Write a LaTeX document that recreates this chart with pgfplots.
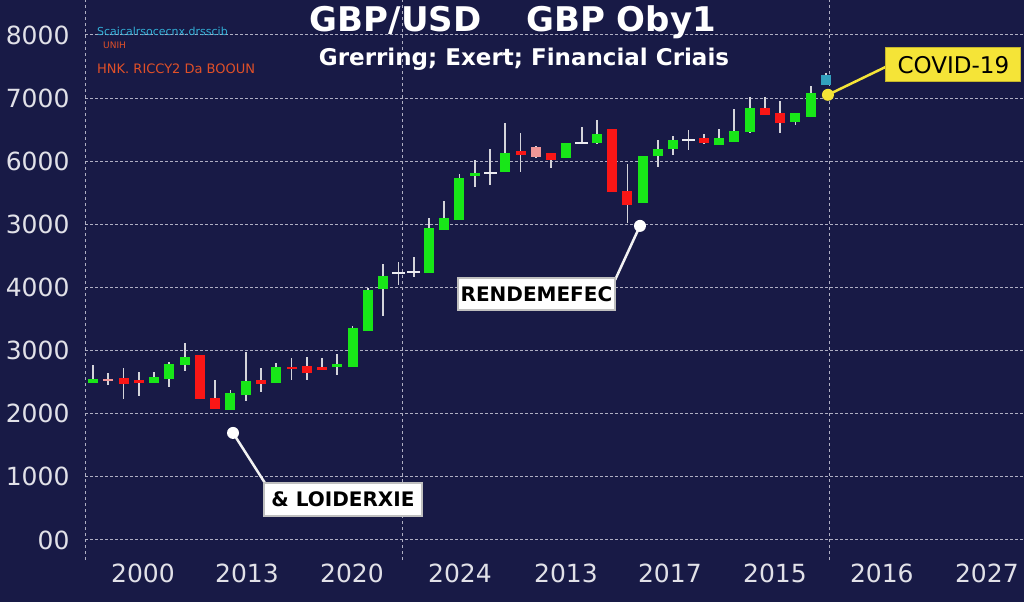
\documentclass[border=0pt]{standalone}
\usepackage{fontspec}
\setmainfont{DejaVu Sans}
\usepackage{pgfplots}
\usepackage{pgfplotstable}
\pgfplotsset{compat=1.18}

\definecolor{bg}{RGB}{24,26,70}
\definecolor{gridc}{RGB}{175,175,195}
\definecolor{lab}{RGB}{225,225,232}
\definecolor{cgreen}{RGB}{24,230,24}
\definecolor{cred}{RGB}{250,22,22}
\definecolor{cpink}{RGB}{240,150,150}
\definecolor{cdoji}{RGB}{235,235,240}
\definecolor{cteal}{RGB}{50,160,190}
\definecolor{wick}{RGB}{212,212,218}
\definecolor{ccyan}{RGB}{50,175,215}
\definecolor{corange}{RGB}{225,80,40}
\definecolor{cyel}{RGB}{245,228,55}

% x  open high low close
\pgfplotstableread{
x o h l c
1 2488 2773 2488 2552
5 2488 2662 2488 2583
6 2552 2821 2425 2789
7 2773 3122 2678 2900
10 2060 2377 2060 2330
11 2298 2979 2203 2520
13 2488 2805 2488 2742
17 2742 2948 2615 2789
18 2742 3391 2742 3360
19 3312 3994 3312 3962
20 3978 4374 3550 4184
23 4231 5103 4231 4945
24 4913 5372 4913 5103
25 5071 5800 5071 5737
26 5769 6022 5594 5816
28 5832 6609 5832 6133
32 6054 6292 6054 6292
34 6292 6656 6276 6434
37 5341 6086 5341 6086
38 6086 6339 5911 6197
39 6197 6403 6101 6339
42 6260 6514 6260 6371
43 6308 6830 6308 6482
44 6466 7021 6450 6846
47 6624 6767 6577 6767
48 6704 7195 6704 7084
}\greentab

\pgfplotstableread{
x o h l c
3 2567 2726 2235 2472
4 2536 2662 2282 2488
8 2932 2932 2235 2235
9 2250 2536 2076 2076
12 2536 2726 2346 2472
14 2742 2884 2536 2710
15 2758 2900 2536 2647
16 2742 2884 2694 2694
29 6165 6450 5832 6101
31 6133 6133 5895 6022
35 6514 6514 5515 5515
36 5531 5959 5024 5309
41 6371 6434 6276 6292
45 6846 7021 6735 6735
46 6767 6957 6450 6609
}\redtab

\pgfplotstableread{
x o h l c
2 2552 2647 2456 2520
30 6228 6244 6054 6070
}\pinktab

\pgfplotstableread{
x o h l c
21 4247 4406 4041 4215
22 4263 4485 4168 4231
27 5832 6197 5626 5800
33 6308 6545 6276 6276
40 6355 6498 6181 6323
}\dojitab

\pgfplotstableread{
x o h l c
49 7211 7400 7211 7369
}\tealtab

\pgfplotsset{
  wicks/.style={draw=none, mark=none, forget plot,
    error bars/.cd, y dir=both, y explicit, error mark=none,
    error bar style={line width=1.8pt, draw=wick, solid}},
  bodies/.style 2 args={draw=none, mark=none, forget plot,
    error bars/.cd, y dir=both, y explicit, error mark=none,
    error bar style={line width=#1, draw=#2, solid}},
}

\begin{document}
\begin{tikzpicture}
\fill[bg] (0,0) rectangle (1024pt,602pt);

\begin{axis}[
  at={(85pt,42pt)}, anchor=south west,
  scale only axis, width=939pt, height=560pt,
  xmin=0.476, xmax=61.97, ymin=-317, ymax=8554,
  clip=false,
  axis line style={draw=none},
  major tick length=0pt,
  tick style={draw=none},
  /pgf/number format/assume math mode=true,
  ytick={0,1000,2000,3000,4000,5000,6000,7000,8000},
  yticklabels={00,1000,2000,3000,4000,3000,6000,7000,8000},
  xtick={4.27,11.08,17.96,25.03,31.97,38.78,45.66,52.66,59.54},
  xticklabels={2000,2013,2020,2024,2013,2017,2015,2016,2027},
  tick label style={font=\fontsize{25}{30}\selectfont, text=lab},
  yticklabel style={xshift=-12pt},
  ymajorgrids,
  major grid style={draw=gridc, line width=1pt, dash pattern=on 2.5pt off 2.5pt},
  extra x ticks={0.476,21.3,49.2},
  extra x tick labels={},
  extra x tick style={grid=major, major grid style={draw=gridc, line width=1pt, dash pattern=on 3pt off 3pt}},
]

% wicks
\addplot[wicks] table[x=x, y expr=(\thisrow{h}+\thisrow{l})/2, y error expr=(\thisrow{h}-\thisrow{l})/2] {\greentab};
\addplot[wicks] table[x=x, y expr=(\thisrow{h}+\thisrow{l})/2, y error expr=(\thisrow{h}-\thisrow{l})/2] {\redtab};
\addplot[wicks] table[x=x, y expr=(\thisrow{h}+\thisrow{l})/2, y error expr=(\thisrow{h}-\thisrow{l})/2] {\pinktab};
\addplot[wicks] table[x=x, y expr=(\thisrow{h}+\thisrow{l})/2, y error expr=(\thisrow{h}-\thisrow{l})/2] {\dojitab};
\addplot[wicks] table[x=x, y expr=(\thisrow{h}+\thisrow{l})/2, y error expr=(\thisrow{h}-\thisrow{l})/2] {\tealtab};

% bodies
\addplot[bodies={10pt}{cgreen}] table[x=x, y expr=(\thisrow{o}+\thisrow{c})/2, y error expr=abs(\thisrow{c}-\thisrow{o})/2] {\greentab};
\addplot[bodies={10pt}{cred}] table[x=x, y expr=(\thisrow{o}+\thisrow{c})/2, y error expr=abs(\thisrow{c}-\thisrow{o})/2] {\redtab};
\addplot[bodies={10pt}{cpink}] table[x=x, y expr=(\thisrow{o}+\thisrow{c})/2, y error expr=abs(\thisrow{c}-\thisrow{o})/2] {\pinktab};
\addplot[bodies={13pt}{cdoji}] table[x=x, y expr=(\thisrow{o}+\thisrow{c})/2, y error expr=abs(\thisrow{c}-\thisrow{o})/2] {\dojitab};
\addplot[bodies={10pt}{cteal}] table[x=x, y expr=(\thisrow{o}+\thisrow{c})/2, y error expr=abs(\thisrow{c}-\thisrow{o})/2] {\tealtab};

% annotations
\draw[white!90!gray, line width=2.5pt] (axis cs:10.17,1696) -- (axis cs:12.26,903);
\fill[white] (axis cs:10.17,1696) circle (6pt);
\node[fill=white, draw=gray!50, line width=1.5pt, minimum width=158pt, minimum height=33pt, inner sep=0pt,
      font=\bfseries\fontsize{20}{22}\selectfont, text=black] at (axis cs:17.37,642) {\& LOIDERXIE};

\draw[white!90!gray, line width=2.5pt] (axis cs:36.82,4976) -- (axis cs:35.19,4120);
\fill[white] (axis cs:36.82,4976) circle (6pt);
\node[fill=white, draw=gray!50, line width=1.5pt, minimum width=157pt, minimum height=32pt, inner sep=0pt,
      font=\bfseries\fontsize{20}{22}\selectfont, text=black] at (axis cs:30.04,3899) {RENDEMEFEC};

\draw[cyel, line width=2.5pt] (axis cs:49.13,7052) -- (axis cs:52.93,7496);
\fill[cyel] (axis cs:49.13,7052) circle (6pt);
\node[fill=cyel, draw=cyel!80!black, line width=1pt, minimum width=135pt, minimum height=34pt, inner sep=0pt,
      font=\fontsize{23}{25}\selectfont, text=black] at (axis cs:57.35,7528) {COVID-19};
\end{axis}

% titles
\node[anchor=base, text=white, font=\bfseries\fontsize{34}{38}\selectfont] at (513pt,570pt) {GBP/USD\hspace{45pt}GBP Oby1};
\node[anchor=base, text=white, font=\bfseries\fontsize{23}{26}\selectfont] at (524pt,536pt) {Grerring; Exert; Financial Criais};

% legend texts
\node[anchor=west, text=ccyan, font=\fontsize{11}{13}\selectfont, inner sep=0pt] at (97pt,571pt) {Scaicalrsocecnx.drsscib};
\node[anchor=west, text=corange, font=\fontsize{9}{11}\selectfont, inner sep=0pt] at (103pt,557pt) {UNIH};
\node[anchor=west, text=corange, font=\fontsize{13}{15}\selectfont, inner sep=0pt] at (97pt,533pt) {HNK. RICCY2 Da BOOUN};

\pgfresetboundingbox
\path[use as bounding box] (0,0) rectangle (1024pt,602pt);
\end{tikzpicture}
\end{document}
